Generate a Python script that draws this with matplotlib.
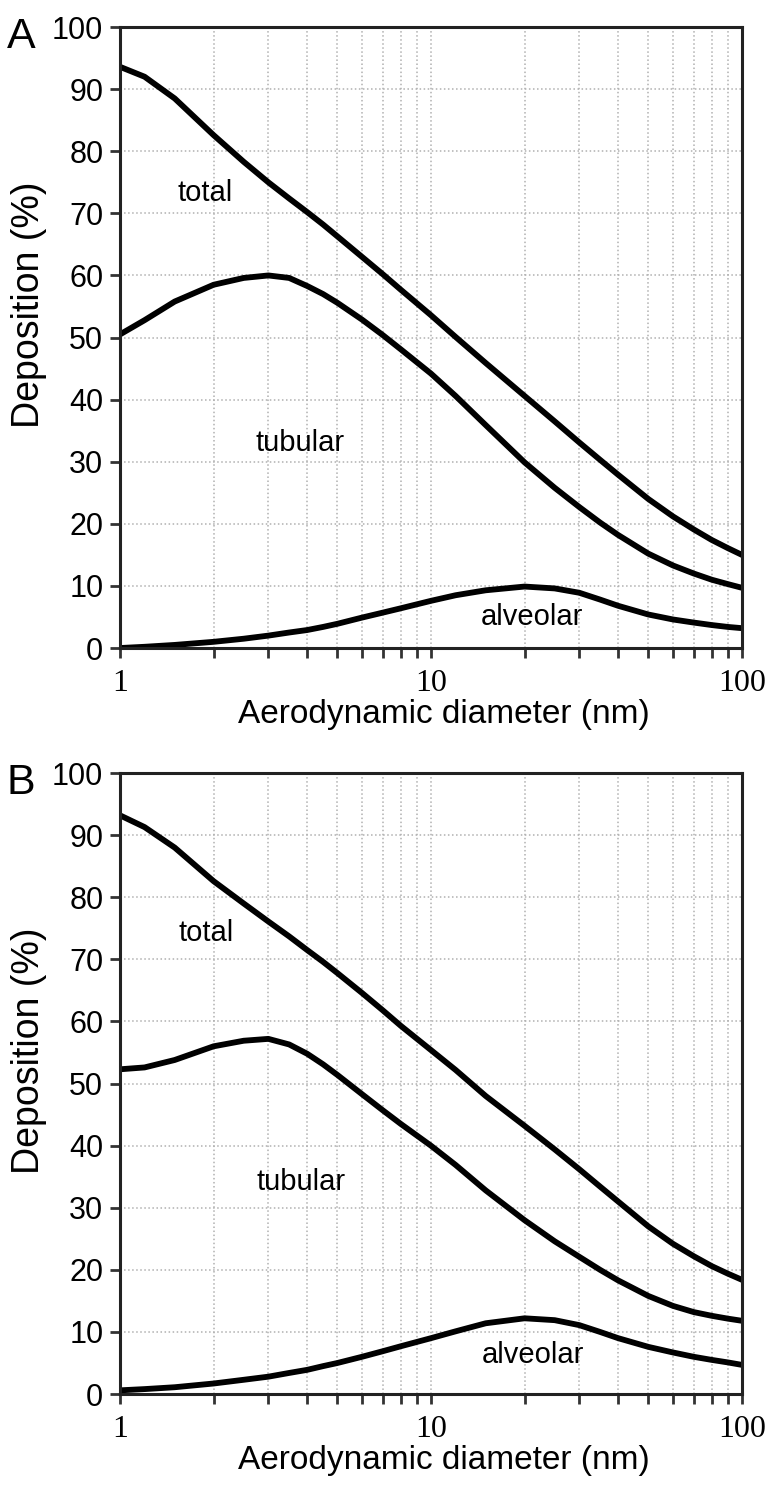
import numpy as np
import matplotlib
matplotlib.use("Agg")
import matplotlib.pyplot as plt
from matplotlib.ticker import LogLocator, FixedLocator, NullFormatter

# values (x in nm, y in % deposition)
x_pts = [1, 1.2, 1.5, 2, 2.5, 3, 3.5, 4, 4.5, 5, 6, 7, 8, 10, 12, 15, 20, 25, 30, 35, 40, 50, 60, 70, 80, 90, 100]

a_total = [93.6, 92.0, 88.5, 82.6, 78.3, 75.0, 72.4, 70.2, 68.2, 66.3, 63.0, 60.2, 57.7, 53.6, 50.1,
           45.9, 40.6, 36.5, 33.1, 30.3, 27.9, 24.0, 21.2, 19.1, 17.4, 16.1, 15.0]
a_tubular = [50.5, 52.8, 55.8, 58.5, 59.6, 60.0, 59.6, 58.3, 57.0, 55.6, 52.9, 50.4, 48.1, 44.2, 40.6,
             35.9, 29.9, 25.8, 22.7, 20.2, 18.2, 15.2, 13.3, 12.0, 11.0, 10.3, 9.7]
a_alveolar = [0.0, 0.2, 0.5, 1.0, 1.5, 2.0, 2.5, 2.9, 3.4, 3.9, 4.9, 5.7, 6.4, 7.6, 8.5,
              9.3, 9.9, 9.6, 8.9, 7.8, 6.8, 5.4, 4.6, 4.1, 3.7, 3.4, 3.2]

b_total = [93.2, 91.3, 88.0, 82.6, 79.0, 76.1, 73.7, 71.5, 69.6, 67.8, 64.6, 61.8, 59.3, 55.4, 52.2,
           48.0, 43.2, 39.4, 36.2, 33.4, 31.0, 27.0, 24.2, 22.2, 20.6, 19.4, 18.4]
b_tubular = [52.3, 52.6, 53.8, 56.0, 56.9, 57.2, 56.3, 54.8, 53.1, 51.4, 48.3, 45.7, 43.5, 40.0, 36.9,
             32.8, 28.0, 24.6, 22.1, 20.0, 18.3, 15.8, 14.2, 13.2, 12.6, 12.15, 11.8]
b_alveolar = [0.6, 0.8, 1.1, 1.7, 2.3, 2.8, 3.4, 3.9, 4.5, 5.0, 6.0, 6.9, 7.7, 9.0, 10.1,
              11.4, 12.2, 11.9, 11.1, 10.0, 9.0, 7.6, 6.7, 6.0, 5.5, 5.1, 4.7]

y_ticks = [0, 10, 20, 30, 40, 50, 60, 70, 80, 90, 100]
x_ticks = [1, 10, 100]
x_labels = ["1", "10", "100"]

# label positions (x, y) in data units
labels_a = {"total": (1.88, 73.3), "tubular": (3.79, 33.0), "alveolar": (21.1, 5.0)}
labels_b = {"total": (1.89, 74.2), "tubular": (3.81, 34.2), "alveolar": (21.3, 6.3)}

plt.rcParams["font.family"] = ["Liberation Sans", "DejaVu Sans"]

fig = plt.figure(figsize=(7.8, 14.87), dpi=100)
ax_a = fig.add_axes([0.1538, 0.5642, 0.7974, 0.4176])
ax_b = fig.add_axes([0.1538, 0.0625, 0.7974, 0.4176])

panels = [
    (ax_a, a_total, a_tubular, a_alveolar, labels_a, "A"),
    (ax_b, b_total, b_tubular, b_alveolar, labels_b, "B"),
]

for ax, tot, tub, alv, labs, letter in panels:
    for ys in (tot, tub, alv):
        ax.plot(x_pts, ys, color="black", lw=4.2, solid_joinstyle="round")
    ax.set_xscale("log")
    ax.set_xlim(1, 100)
    ax.set_ylim(0, 100)

    ax.xaxis.set_major_locator(FixedLocator(x_ticks))
    ax.set_xticklabels(x_labels, family="Liberation Serif", fontsize=23)
    ax.xaxis.set_minor_locator(LogLocator(base=10, subs=np.arange(2, 10)))
    ax.xaxis.set_minor_formatter(NullFormatter())
    ax.set_yticks(y_ticks)
    ax.tick_params(axis="y", labelsize=22, length=7, width=2, pad=5, direction="out",
                   color="#333333")
    ax.tick_params(axis="x", which="both", length=7, width=2, pad=8, direction="out",
                   color="#333333")

    ax.grid(True, which="major", axis="both", ls=":", lw=1.1, color="#b0b0b0")
    ax.grid(True, which="minor", axis="x", ls=":", lw=1.1, color="#b0b0b0")
    ax.set_axisbelow(True)

    for sp in ax.spines.values():
        sp.set_linewidth(2.2)
        sp.set_color("#222222")

    ax.set_xlabel("Aerodynamic diameter (nm)", fontsize=24)
    ax.xaxis.set_label_coords(0.521, -0.082)
    ax.set_ylabel("Deposition (%)", fontsize=27)
    ax.yaxis.set_label_coords(-0.118, 0.553)

    for name, (lx, ly) in labs.items():
        ax.text(lx, ly, name, fontsize=21, ha="center", va="center")

    ax.text(-0.182, 0.984, letter, transform=ax.transAxes, fontsize=31,
            ha="left", va="center")

fig.savefig("out.png", dpi=100)
